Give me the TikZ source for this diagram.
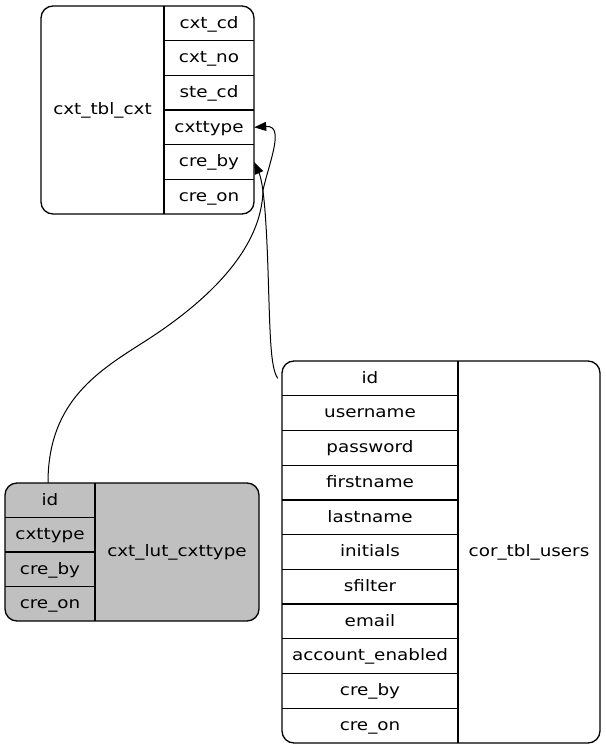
\documentclass[tikz,border=0pt]{standalone}
\usepackage{fontspec}
\setmainfont{DejaVu Sans}[FakeStretch=1.16]
\usetikzlibrary{arrows.meta}
\definecolor{tblgray}{RGB}{192,192,192}
\begin{document}
\begin{tikzpicture}[x=1pt,y=-1pt,
  tbl/.style={line width=1.3pt, rounded corners=12pt},
  sep/.style={line width=1.3pt},
  cell/.style={minimum width=#1, minimum height=34.6pt, inner sep=0pt,
    text height=12.5pt, text depth=3pt, font=\fontsize{15.8}{19}\selectfont},
  edge/.style={line width=1pt, -{Triangle[length=12pt,width=9pt]}}]
\useasboundingbox (0,0) rectangle (605,749);

% ---- cxt_tbl_cxt ----
\draw[tbl] (41,6) rectangle (254,214);
\draw[sep] (164,6) -- (164,214);
\foreach \k in {1,...,5} \draw[sep] (164,{6+\k*34.667}) -- (254,{6+\k*34.667});
\node[cell=123pt] (cname) at (102.5,110) {cxt\_tbl\_cxt};
\node[cell=90pt] (c1) at (209,23.33) {cxt\_cd};
\node[cell=90pt] (c2) at (209,58) {cxt\_no};
\node[cell=90pt] (c3) at (209,92.67) {ste\_cd};
\node[cell=90pt] (c4) at (209,127.33) {cxttype};
\node[cell=90pt] (c5) at (209,162) {cre\_by};
\node[cell=90pt] (c6) at (209,196.67) {cre\_on};

% ---- cxt_lut_cxttype ----
\draw[tbl, fill=tblgray] (5,483) rectangle (259,621);
\draw[sep] (95,483) -- (95,621);
\foreach \k in {1,2,3} \draw[sep] (5,{483+\k*34.5}) -- (95,{483+\k*34.5});
\node[cell=90pt] (l1) at (50,500.25) {id};
\node[cell=90pt] (l2) at (50,534.75) {cxttype};
\node[cell=90pt] (l3) at (50,569.25) {cre\_by};
\node[cell=90pt] (l4) at (50,603.75) {cre\_on};
\node[cell=164pt] (lname) at (177,552) {cxt\_lut\_cxttype};

% ---- cor_tbl_users ----
\draw[tbl] (282,361) rectangle (600,743);
\draw[sep] (458,361) -- (458,743);
\foreach \k in {1,...,10} \draw[sep] (282,{361+\k*34.727}) -- (458,{361+\k*34.727});
\node[cell=176pt] (u1) at (370,378.36) {id};
\node[cell=176pt] (u2) at (370,413.09) {username};
\node[cell=176pt] (u3) at (370,447.82) {password};
\node[cell=176pt] (u4) at (370,482.55) {firstname};
\node[cell=176pt] (u5) at (370,517.27) {lastname};
\node[cell=176pt] (u6) at (370,552) {initials};
\node[cell=176pt] (u7) at (370,586.73) {sfilter};
\node[cell=176pt] (u8) at (370,621.45) {email};
\node[cell=176pt] (u9) at (370,656.18) {account\_enabled};
\node[cell=176pt] (u10) at (370,690.91) {cre\_by};
\node[cell=176pt] (u11) at (370,725.64) {cre\_on};
\node[cell=142pt] (uname) at (529,552) {cor\_tbl\_users};

% ---- edges ----
\draw[edge] ([xshift=-2pt]l1.north) .. controls (48,400) and (100,370) .. (147,340)
  .. controls (215,296) and (262,245) .. (263,190)
  .. controls (270,160) and (285,125) .. (c4.east);
\draw[edge] ([xshift=-4pt]u1.west) .. controls (270,368) and (270,330) .. (268,270)
  .. controls (266,210) and (263,182) .. (c5.east);
\end{tikzpicture}
\end{document}
